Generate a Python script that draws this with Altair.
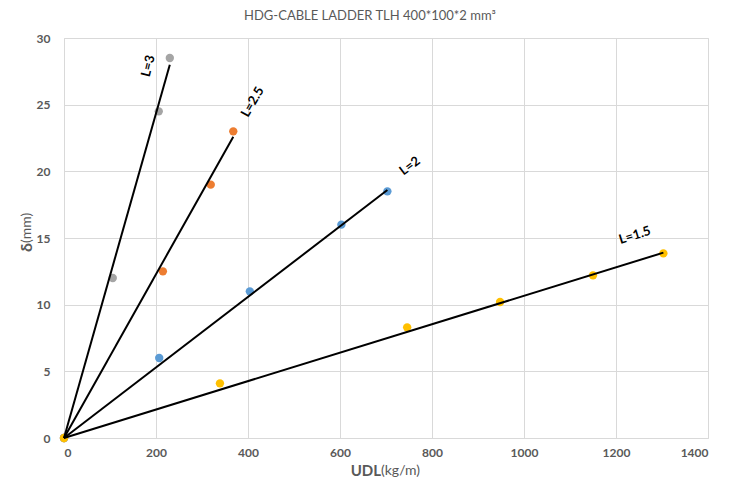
import altair as alt
import pandas as pd

# ---- data ----
series_names = ["L=3", "L=2.5", "L=2", "L=1.5"]
series_colors = ["#A5A5A5", "#ED7D31", "#5B9BD5", "#FFC000"]

l3_x = [0, 106, 206, 230]
l3_y = [0, 12.0, 24.5, 28.5]
l25_x = [0, 215, 319, 368]
l25_y = [0, 12.5, 19.0, 23.0]
l2_x = [0, 207, 404, 603, 703]
l2_y = [0, 6.0, 11.0, 16.0, 18.5]
l15_x = [0, 339, 746, 948, 1150, 1303]
l15_y = [0, 4.1, 8.3, 10.2, 12.2, 13.85]

# trend lines (through origin) end points
trend_end_x = [230, 368, 703, 1303]
trend_end_y = [28.0, 22.6, 18.6, 13.9]

# series labels
label_x = [183, 410, 752, 1241]
label_y = [27.9, 25.2, 20.4, 15.2]

x_ticks = [0, 200, 400, 600, 800, 1000, 1200, 1400]
y_ticks = [0, 5, 10, 15, 20, 25, 30]

title_text = "HDG-CABLE LADDER TLH 400*100*2 mm³"

# ---- build tables ----
xs_all = [l3_x, l25_x, l2_x, l15_x]
ys_all = [l3_y, l25_y, l2_y, l15_y]
rows = []
for i, (name, xs, ys) in enumerate(zip(series_names, xs_all, ys_all)):
    for xv, yv in zip(xs, ys):
        rows.append({"series": name, "k": i, "x": xv, "y": yv})
pts = pd.DataFrame(rows)

trend_rows = []
for name, ex, ey in zip(series_names, trend_end_x, trend_end_y):
    trend_rows.append({"series": name, "x": 0, "y": 0, "o": 0})
    trend_rows.append({"series": name, "x": ex, "y": ey, "o": 1})
trend = pd.DataFrame(trend_rows)

labels = pd.DataFrame({"series": series_names, "x": label_x, "y": label_y})

FONT = "Lato"
W, H = 644, 400

xscale = alt.Scale(domain=[0, 1400], nice=False)
yscale = alt.Scale(domain=[0, 30], nice=False)

xax = alt.Axis(values=x_ticks, format="d", title=None, grid=True, gridColor="#D9D9D9", domain=False,
               ticks=False, labelColor="#595959", labelFont=FONT, labelFontSize=12,
               labelFontWeight="bold", labelPadding=9)
yax = alt.Axis(values=y_ticks, format="d", title=None, grid=True, gridColor="#D9D9D9", domain=False,
               ticks=False, labelColor="#595959", labelFont=FONT, labelFontSize=12,
               labelFontWeight="bold", labelPadding=14)

points = alt.Chart(pts).mark_circle(size=70, opacity=1).encode(
    x=alt.X("x:Q", scale=xscale, axis=xax),
    y=alt.Y("y:Q", scale=yscale, axis=yax),
    color=alt.Color("series:N", scale=alt.Scale(domain=series_names, range=series_colors), legend=None),
    order=alt.Order("k:Q", sort="ascending"),
)

lines = alt.Chart(trend).mark_line(color="black", strokeWidth=2).encode(
    x=alt.X("x:Q", scale=xscale),
    y=alt.Y("y:Q", scale=yscale),
    detail="series:N",
    order="o:Q",
)

angles = [284, 300, 323, 343]
label_layers = []
for name, ang in zip(series_names, angles):
    label_layers.append(
        alt.Chart(labels).transform_filter(alt.datum.series == name).mark_text(
            angle=ang, font=FONT, fontSize=13, fontWeight="bold", color="black"
        ).encode(
            x=alt.X("x:Q", scale=xscale),
            y=alt.Y("y:Q", scale=yscale),
            text="series:N",
        )
    )

one = pd.DataFrame({"a": [0]})
title_mark = alt.Chart(one).mark_text(font=FONT, fontSize=13, color="#595959").encode(
    x=alt.value(306), y=alt.value(-22), text=alt.value(title_text)
)
xt1 = alt.Chart(one).mark_text(font=FONT, fontSize=15, fontWeight="bold", color="#595959",
                               align="right").encode(
    x=alt.value(317), y=alt.value(433), text=alt.value("UDL"))
xt2 = alt.Chart(one).mark_text(font=FONT, fontSize=14, color="#595959", align="left").encode(
    x=alt.value(317), y=alt.value(433), text=alt.value("(kg/m)"))
yt1 = alt.Chart(one).mark_text(font=FONT, fontSize=16, fontWeight="bold", color="#595959",
                               align="right", angle=270).encode(
    x=alt.value(-37), y=alt.value(205), text=alt.value("δ"))
yt2 = alt.Chart(one).mark_text(font=FONT, fontSize=14, color="#595959", align="left",
                               angle=270).encode(
    x=alt.value(-37), y=alt.value(205), text=alt.value("(mm)"))

chart = alt.layer(points, lines, *label_layers, title_mark, xt1, xt2, yt1, yt2).properties(
    width=W, height=H,
    autosize=alt.AutoSizeParams(type="none"),
    padding={"left": 56, "top": 30, "right": 25, "bottom": 44},
).configure_view(stroke=None).configure(background="white")

chart.save("out.html", embed_options={"renderer": "svg", "actions": False})
